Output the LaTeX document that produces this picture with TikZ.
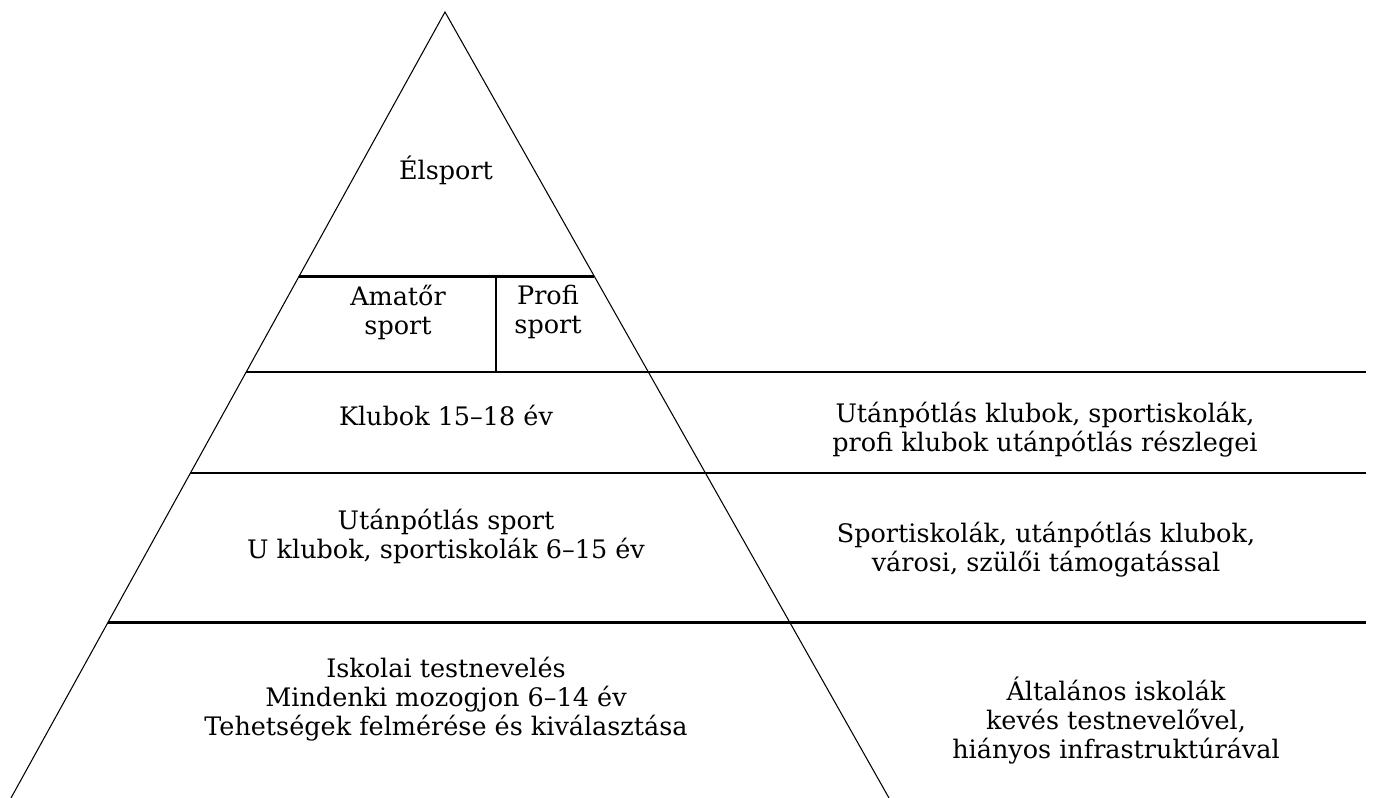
\documentclass[tikz,border=0pt]{standalone}
\usepackage{fontspec}
\setmainfont{DejaVu Serif}
\usetikzlibrary{calc}
\tikzset{
    % Two line styles: pyramid sides and level separators
    side line/.style={line width=0.6pt}, level line/.style={line width=1.5pt},
    level text/.style={align=center,inner sep=0}
    }
\begin{document}
\begin{tikzpicture}[x=0.02cm,y=-0.02cm,font=\fontsize{14.5}{16.5}\selectfont]
        \useasboundingbox (0,0) rectangle (1374,798);
        % The pyramid
        \coordinate (top) at (445,12);
        \coordinate (bl) at (11,798);
        \coordinate (br) at (889,798);
        \coordinate (right) at (1366,0);
        \coordinate (mid) at (496,0);
        \draw[side line] (bl) -- (top) -- (br);
        % level separators
        \coordinate (l1) at ($(top)!0.3365!(bl)$); \coordinate (r1) at ($(top)!0.3365!(br)$);
        \coordinate (l2) at ($(top)!0.458!(bl)$);
        \coordinate (l3) at ($(top)!0.5865!(bl)$);
        \coordinate (l4) at ($(top)!0.7767!(bl)$);
        \draw[level line] (l1) -- (r1);
        \draw[level line] (l2) -- (l2 -| right);
        \draw[level line] (l3) -- (l3 -| right);
        \draw[level line] (l4) -- (l4 -| right);
        \draw[side line] (l1 -| mid) -- (l2 -| mid);
        % level texts
        \node(elite)[level text] at (446,170) {Élsport};
        \node(amateur)[level text] at (398,312) {Amatőr\\sport};
        \node(pro)[level text] at (548,312) {Profi\\sport};
        \node(clubs)[level text] at (446,415) {Klubok 15–18 év};
        \node(youth)[level text] at (446,536) {Utánpótlás sport\\U klubok, sportiskolák 6–15 év};
        \node(school)[level text] at (446,699) {Iskolai testnevelés\\Mindenki mozogjon 6–14 év\\Tehetségek felmérése és kiválasztása};
        % right column
        \node(clubs info)[level text] at (1045,430) {Utánpótlás klubok, sportiskolák,\\profi klubok utánpótlás részlegei};
        \node(youth info)[level text] at (1046,550) {Sportiskolák, utánpótlás klubok,\\városi, szülői támogatással};
        \node(school info)[level text] at (1116,721) {Általános iskolák\\kevés testnevelővel,\\hiányos infrastruktúrával};
    \end{tikzpicture}
\end{document}
